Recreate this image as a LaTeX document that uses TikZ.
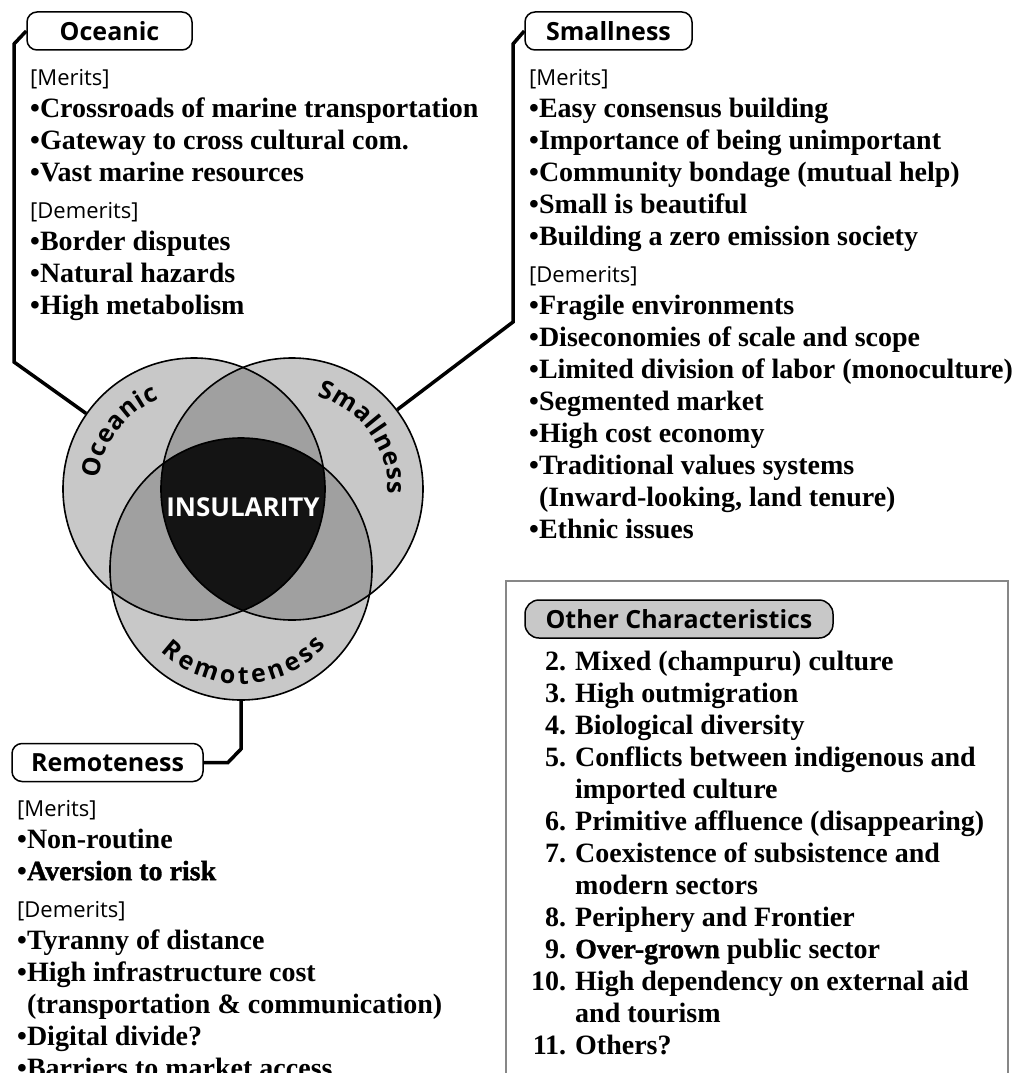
\documentclass[tikz,border=0pt]{standalone}
\usepackage{fontspec}
\setmainfont{Liberation Serif}
\setsansfont{Open Sans}
\newfontfamily\heavyserif{Liberation Serif}[FakeBold=1.2]
\usetikzlibrary{decorations.text}
\definecolor{ringgray}{RGB}{200,200,200}
\definecolor{lensgray}{RGB}{160,160,160}
\definecolor{coregray}{RGB}{20,20,20}
\definecolor{framegray}{RGB}{135,135,135}
\newcommand{\sechead}[1]{{\strut\sffamily\mdseries\fontsize{22}{32}\selectfont #1}}
\newcommand{\heavy}[1]{{\heavyserif\bfseries #1}}

\begin{document}
\begin{tikzpicture}[x=1pt,y=-1pt,line join=miter,
    tagbox/.style={draw,line width=1.5pt,fill=white,rounded corners=10pt,minimum height=38pt,inner sep=0pt,font=\sffamily\bfseries\fontsize{25}{30}\selectfont},
    ring/.style={circle,draw,line width=1.6pt,minimum size=262pt,inner sep=0pt},
    link/.style={line width=3.5pt},
    itemlist/.style={align=left,inner sep=0pt,anchor=north west,font=\bfseries\fontsize{28}{32}\selectfont},
    arclabel/.style={decorate,decoration={text along path,text align={fit to path},text={|\sffamily\bfseries\fontsize{25}{25}\selectfont|#1}}}]
    \useasboundingbox (0,0) rectangle (1014,1073);
    % centres of the three sets
    \coordinate (O) at (194,489);
    \coordinate (S) at (292,489);
    \coordinate (R) at (241,569);

    % venn shading
    \fill[ringgray] (O) circle (131pt) (S) circle (131pt) (R) circle (131pt);
    \begin{scope}
        \clip (O) circle (131pt);
        \fill[lensgray] (S) circle (131pt) (R) circle (131pt);
    \end{scope}
    \begin{scope}
        \clip (S) circle (131pt);
        \fill[lensgray] (R) circle (131pt);
    \end{scope}
    \begin{scope}
        \clip (O) circle (131pt);
        \clip (S) circle (131pt);
        \fill[coregray] (R) circle (131pt);
    \end{scope}
    \node[ring] (ocircle) at (O) {};
    \node[ring] (scircle) at (S) {};
    \node[ring] (rcircle) at (R) {};
    \node[text=white,font=\sffamily\bfseries\fontsize{26}{26}\selectfont] (core) at (243,507) {INSULARITY};
    \path[arclabel=Oceanic] (O) ++(174:96pt) arc (174:111:96pt);
    \path[arclabel=Smallness] (S) ++(75:96pt) arc (75:-3:96pt);
    \path[arclabel=Remoteness] (R) ++(226:115pt) arc (226:318:115pt);

    % label boxes and connectors
    \node[tagbox,minimum width=165pt] (oceanicbox) at (109.5,31) {Oceanic};
    \node[tagbox,minimum width=167pt] (smallbox) at (608.5,31) {Smallness};
    \node[tagbox,minimum width=191pt] (remotebox) at (107.5,762.5) {Remoteness};
    \draw[link] (oceanicbox.west) -- (14,44) -- (14,362) -- (ocircle.145);
    \draw[link] (smallbox.west) -- (513,44) -- (513,322) -- (scircle.37);
    \draw[link] (remotebox.east) -- (228,762.5) -- (241,749) -- (rcircle.south);

    % merits and demerits
    \node[itemlist] (oceanlist) at (30,62.6) {\sechead{[Merits]}\\
        •Crossroads of marine transportation\\
        •Gateway to cross cultural com.\\
        •Vast marine resources\\[5pt]
        \sechead{[Demerits]}\\
        •Border disputes\\
        •Natural hazards\\
        •High metabolism};
    \node[itemlist] (smalllist) at (529,62.6) {\sechead{[Merits]}\\
        •Easy consensus building\\
        •Importance of being unimportant\\
        •Community bondage (mutual help)\\
        •Small is beautiful\\
        •Building a zero emission society\\[5pt]
        \sechead{[Demerits]}\\
        •Fragile environments\\
        •Diseconomies of scale and scope\\
        •Limited division of labor (monoculture)\\
        •Segmented market\\
        •High cost economy\\
        •Traditional values systems\\
        \phantom{•}(Inward-looking, land tenure)\\
        •Ethnic issues};
    \node[itemlist] (remotelist) at (17,793.6) {\sechead{[Merits]}\\
        •Non-routine\\
        •\heavy{Aversion to risk}\\[5pt]
        \sechead{[Demerits]}\\
        •Tyranny of distance\\
        •High infrastructure cost\\
        \phantom{•}(transportation \& communication)\\
        •Digital divide?\\
        •Barriers to market access};

    % other characteristics
    \node[draw=framegray,line width=1.5pt,minimum width=502pt,minimum height=520pt,anchor=north west,inner sep=0pt] (otherframe) at (505,580) {};
    \node[tagbox,fill=ringgray,rounded corners=14pt,minimum width=308pt] (otherbox) at (679,619) {Other Characteristics};
    \node[inner sep=0pt,anchor=north west,font=\bfseries\fontsize{28}{32}\selectfont] (otherlist) at (531,647.6) {%
        \begin{tabular}{@{}r@{\hspace{9pt}}l@{}}
        2. & Mixed (champuru) culture\\
        3. & High outmigration\\
        4. & Biological diversity\\
        5. & Conflicts between indigenous and\\
           & imported culture\\
        6. & Primitive affluence (disappearing)\\
        7. & Coexistence of subsistence and\\
           & modern sectors\\
        8. & Periphery and Frontier\\
        9. & \heavy{Over-grown} public sector\\
        10. & High dependency on external aid\\
            & and tourism\\
        11. & Others?
        \end{tabular}};
\end{tikzpicture}
\end{document}
